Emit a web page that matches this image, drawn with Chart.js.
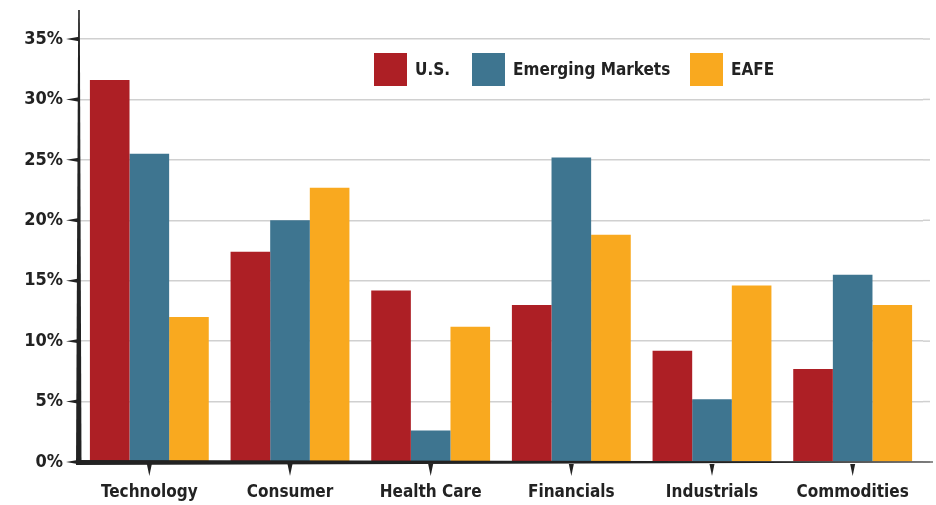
<!DOCTYPE html>
<html>
<head>
<meta charset="utf-8">
<script src="https://cdn.jsdelivr.net/npm/chart.js@4"></script>
<style>
  html, body { margin: 0; padding: 0; background: #fff; }
  #wrap { width: 936px; height: 505px; }
</style>
</head>
<body>
<div id="wrap"><canvas id="chart"></canvas></div>
<script>
/* data */
const sectors = ["Technology", "Consumer", "Health Care", "Financials", "Industrials", "Commodities"];
const usValues = [31.6, 17.4, 14.2, 13.0, 9.2, 7.7];
const emergingValues = [25.5, 20.0, 2.6, 25.2, 5.2, 15.5];
const eafeValues = [12.0, 22.7, 11.2, 18.8, 14.6, 13.0];
const seriesNames = ["U.S.", "Emerging Markets", "EAFE"];
const seriesColors = ["#AD1F25", "#3E7590", "#F9A91F"];

const FONT = "'DejaVu Sans', sans-serif";
const WEIGHT = "bold condensed";
const INK = "#222222";
const GRID = "#d0d0d0";
const legendX = [374, 472, 690];

/* grid extension past the last group */
const gridExtend = {
  id: "gridExtend",
  beforeDatasetsDraw(chart) {
    const ctx = chart.ctx, a = chart.chartArea, y = chart.scales.y;
    ctx.save();
    ctx.strokeStyle = GRID;
    ctx.lineWidth = 1.5;
    y.ticks.forEach(t => {
      const py = y.getPixelForValue(t.value);
      ctx.beginPath();
      ctx.moveTo(a.right, py);
      ctx.lineTo(930, py);
      ctx.stroke();
    });
    ctx.restore();
  }
};

/* tapered axis lines, arrow ticks and the legend */
const axisPlugin = {
  id: "axisPlugin",
  afterDraw(chart) {
    const ctx = chart.ctx;
    const a = chart.chartArea;
    const x = chart.scales.x, y = chart.scales.y;
    const y0 = y.getPixelForValue(0);
    ctx.save();
    ctx.fillStyle = INK;

    // y axis: thick at bottom, thin at top
    ctx.beginPath();
    ctx.moveTo(a.left - 3, y0 + 3);
    ctx.lineTo(a.left + 2.5, y0 + 3);
    ctx.lineTo(a.left + 0.8, a.top);
    ctx.lineTo(a.left - 0.8, a.top);
    ctx.closePath();
    ctx.fill();

    // x axis: thick at left, thin at right
    ctx.beginPath();
    ctx.moveTo(a.left - 3, y0 - 2);
    ctx.lineTo(933, y0 - 0.5);
    ctx.lineTo(933, y0 + 0.5);
    ctx.lineTo(a.left - 3, y0 + 3);
    ctx.closePath();
    ctx.fill();

    // y tick arrows
    y.ticks.forEach(t => {
      const py = y.getPixelForValue(t.value);
      ctx.beginPath();
      ctx.moveTo(a.left - 13, py);
      ctx.lineTo(a.left, py - 2.2);
      ctx.lineTo(a.left, py + 2.2);
      ctx.closePath();
      ctx.fill();
    });

    // x tick arrows
    sectors.forEach((_, i) => {
      const px = x.getPixelForValue(i);
      ctx.beginPath();
      ctx.moveTo(px - 2.5, y0 + 2);
      ctx.lineTo(px + 2.5, y0 + 2);
      ctx.lineTo(px, y0 + 14);
      ctx.closePath();
      ctx.fill();
    });

    // legend
    ctx.font = WEIGHT + " 17px " + FONT;
    ctx.textBaseline = "middle";
    const ly = 53, box = 33;
    chart.data.datasets.forEach((ds, i) => {
      const lx = legendX[i];
      ctx.fillStyle = ds.backgroundColor;
      ctx.fillRect(lx, ly, box, box);
      ctx.fillStyle = INK;
      ctx.fillText(ds.label, lx + box + 8, ly + box / 2 + 1);
    });
    ctx.restore();
  }
};

new Chart(document.getElementById("chart"), {
  type: "bar",
  data: {
    labels: sectors,
    datasets: [
      { label: seriesNames[0], data: usValues, backgroundColor: seriesColors[0] },
      { label: seriesNames[1], data: emergingValues, backgroundColor: seriesColors[1] },
      { label: seriesNames[2], data: eafeValues, backgroundColor: seriesColors[2] }
    ]
  },
  options: {
    responsive: true,
    maintainAspectRatio: false,
    animation: false,
    layout: { padding: { top: 10, right: 13, left: 0, bottom: 0 } },
    datasets: { bar: { categoryPercentage: 0.845, barPercentage: 1.0 } },
    plugins: { legend: { display: false }, tooltip: { enabled: false } },
    scales: {
      x: {
        grid: { display: false },
        border: { display: false },
        ticks: { color: INK, font: { family: FONT, size: 17, weight: WEIGHT }, padding: 12 },
        afterFit: s => { s.height = 43; s.paddingLeft = 0; s.paddingRight = 0; }
      },
      y: {
        min: 0,
        max: 37.4,
        grid: { color: GRID, lineWidth: 1.5, drawTicks: false },
        border: { display: false },
        ticks: {
          stepSize: 5,
          includeBounds: false,
          color: INK,
          padding: 16,
          font: { family: FONT, size: 18, weight: WEIGHT },
          callback: v => v + "%"
        },
        afterFit: s => { s.width = 79; s.paddingTop = 0; s.paddingBottom = 0; }
      }
    }
  },
  plugins: [gridExtend, axisPlugin]
});
</script>
</body>
</html>
